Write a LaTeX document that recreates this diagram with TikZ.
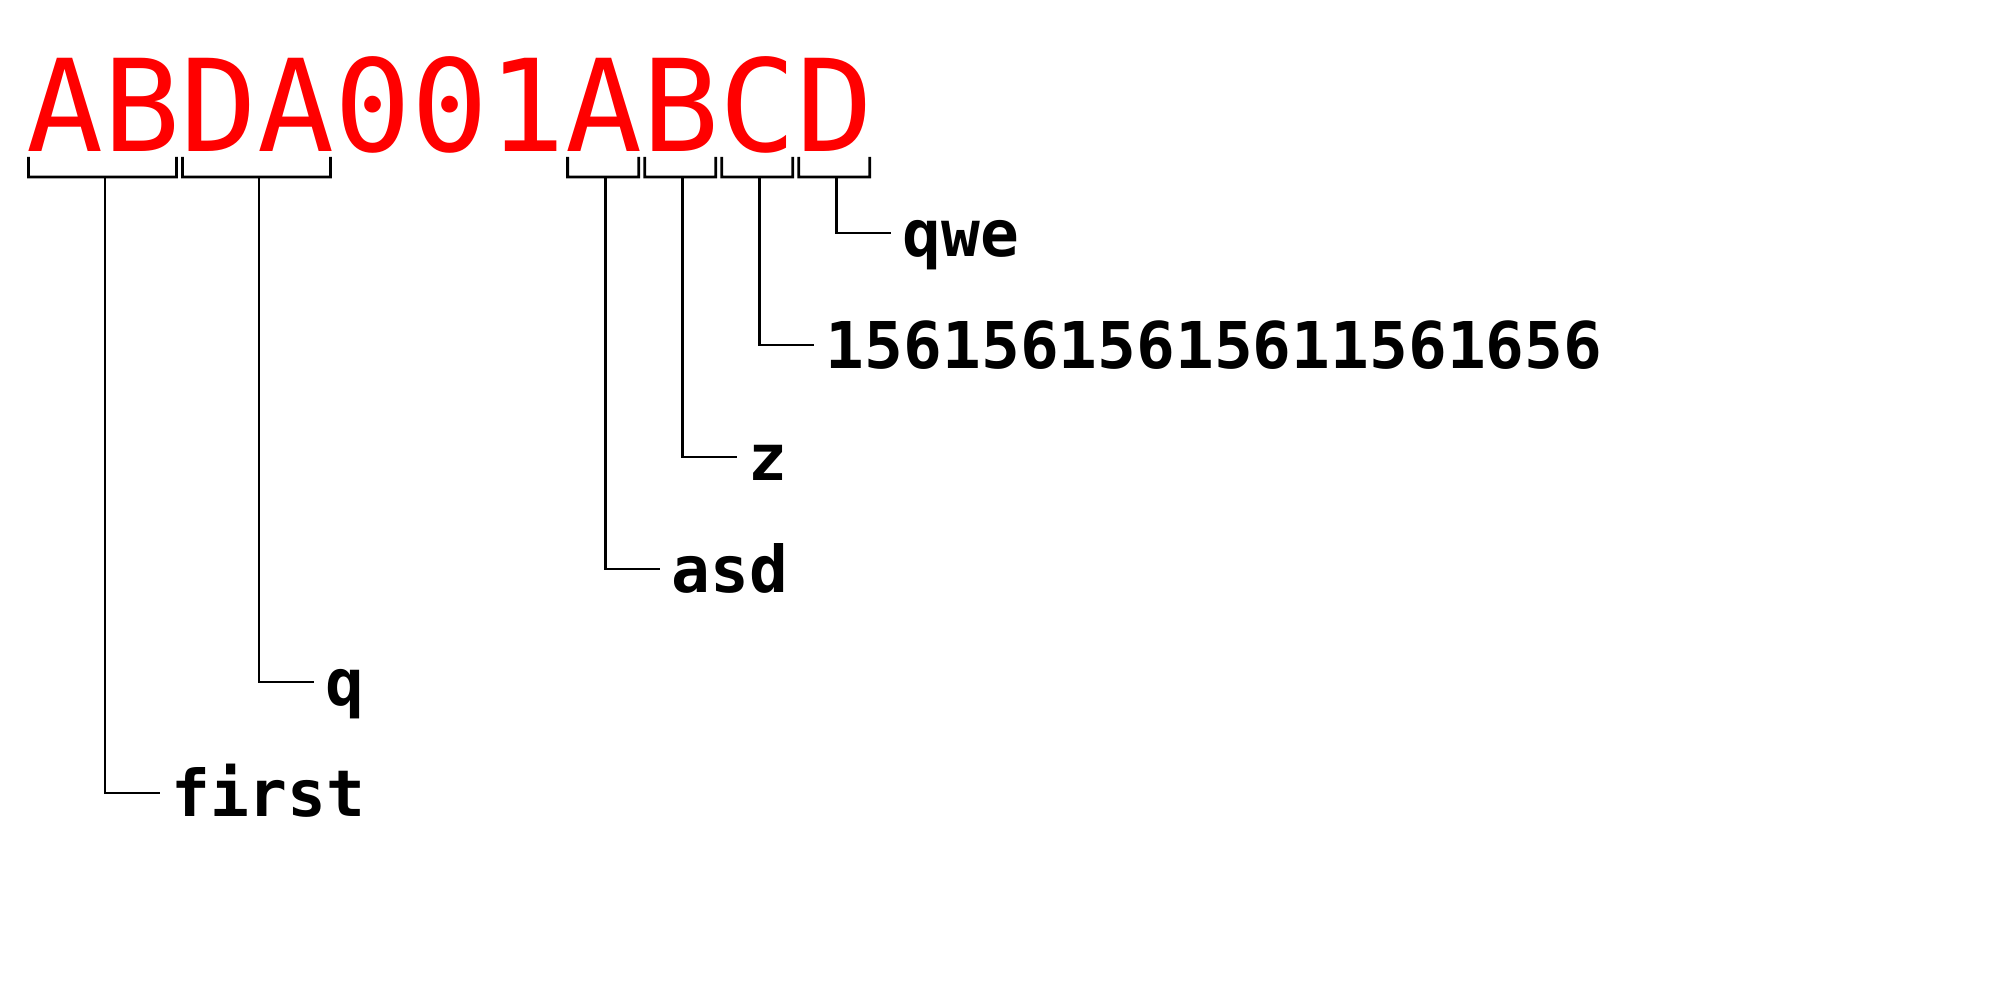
\documentclass[tikz,border=0pt]{standalone}
\usepackage{fontspec}
\setmonofont{DejaVu Sans Mono}
\usepackage{tikz}
\usetikzlibrary{calc,positioning}

\newcommand{\cellw}{0.7702}

\begin{document}
\begin{tikzpicture}
  [
    Word/.style={anchor=base west, inner sep=0pt, text=red, font=\ttfamily\fontsize{36.4}{40}\selectfont},
    Tag/.style={anchor=west, inner xsep=1.1mm, inner ysep=0pt, text height=14.7pt, text depth=1.5pt, font=\ttfamily\bfseries\fontsize{18.35}{20}\selectfont},
    Brace/.style={draw=black, line width=0.8pt},
    Link/.style={draw=black, line width=0.8pt}
  ]
  \useasboundingbox (0,0) rectangle (20,10);

  % Nodes
  \node[Word] (word) at (0.255, 8.485) {ABDA001ABCD};

  \node[Tag] (qwe) at (8.912, 7.67) {qwe};
  \node[Tag] (num) at (8.142, 6.55) {15615615615611561656};
  \node[Tag] (z) at (7.372, 5.43) {z};
  \node[Tag] (asd) at (6.600, 4.31) {asd};
  \node[Tag] (q) at (3.135, 3.18) {q};
  \node[Tag] (first) at (1.595, 2.07) {first};

  % Braces
  \foreach \a/\b/\tg in {0/1/first, 2/3/q, 7/7/asd, 8/8/z, 9/9/num, 10/10/qwe}
  {
    \path [Brace] ($(word.base west)+(\a*\cellw+0.03,-0.055)$) -- ++(0,-0.2)
      -- ($(word.base west)+(\b*\cellw+\cellw-0.03,-0.255)$) -- ++(0,0.2);
    \coordinate (\tg-top) at ($(word.base west)+({(\a+\b+1)*\cellw/2+0.025},-0.255)$);
  }

  % Lines
  \path [Link] (first-top) |- (first.west);
  \path [Link] (q-top) |- (q.west);
  \path [Link] (asd-top) |- (asd.west);
  \path [Link] (z-top) |- (z.west);
  \path [Link] (num-top) |- (num.west);
  \path [Link] (qwe-top) |- (qwe.west);

\end{tikzpicture}
\end{document}
